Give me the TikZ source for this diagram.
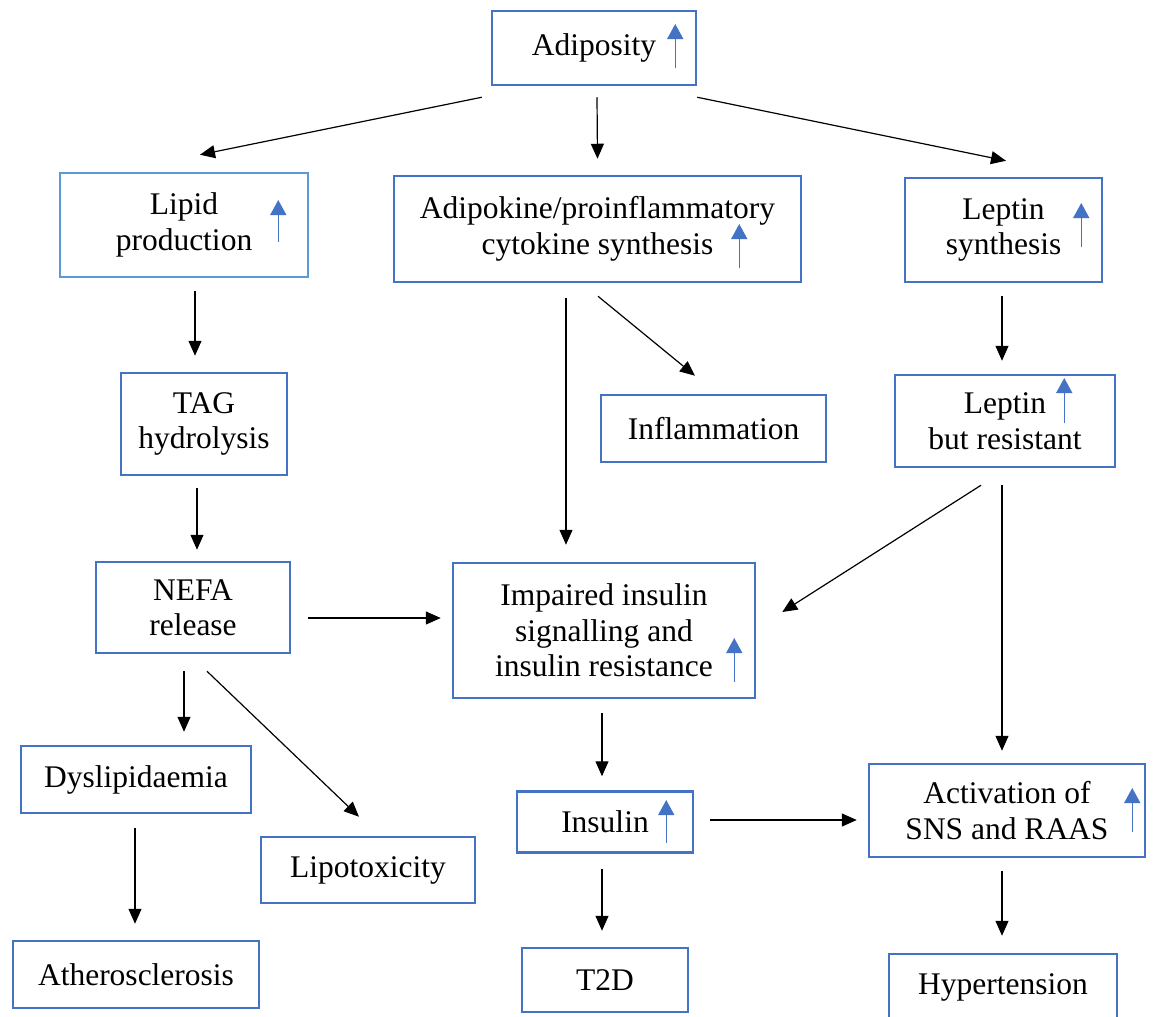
\documentclass[tikz,border=0pt]{standalone}
\usepackage{fontspec}
\setmainfont{Liberation Serif}
\usetikzlibrary{positioning, calc, arrows.meta}
\definecolor{boxblue}{HTML}{4472C4}
\definecolor{lightblue}{HTML}{5B9BD5}
\tikzset{
>={Triangle[length=15pt,width=13pt]}, % filled black heads
every node/.style={font=\fontsize{31.5}{35.5}\selectfont, align=center}, % Times-like text
block/.style={draw=boxblue, line width=2.5pt, inner sep=0pt}, % every box
link/.style={->, line width=1.2pt}, % black connectors
uparr/.style={-{Triangle[length=15pt,width=16pt]}, color=boxblue, line width=1.5pt}, % small blue "increase" marks
}

\begin{document}
\begin{tikzpicture}[x=1pt, y=-1pt]
        \path[use as bounding box, fill=white] (0,0) rectangle (1154,1017);

        % Top row
        \node[block, minimum width=204pt, minimum height=74pt] (adip) at (594,48) {Adiposity};
        \node[block, draw=lightblue, minimum width=248pt, minimum height=104pt] (lipid) at (184,225) {Lipid\\production};
        \node[block, minimum width=407pt, minimum height=106pt] (adipo) at (597.5,229) {Adipokine/proinflammatory\\cytokine synthesis};
        \node[block, minimum width=197pt, minimum height=104pt] (leptin) at (1003.5,230) {Leptin\\synthesis};

        % Second row
        \node[block, minimum width=166pt, minimum height=102pt] (tag) at (204,424) {TAG\\hydrolysis};
        \node[block, minimum width=225pt, minimum height=67pt] (inflam) at (713.5,428.5) {Inflammation};
        \node[block, minimum width=220pt, minimum height=92pt] (leptres) at (1005,421) {Leptin\\but resistant};

        % Middle row
        \node[block, minimum width=194pt, minimum height=91pt] (nefa) at (193,607.5) {NEFA\\release};
        \node[block, minimum width=302pt, minimum height=135pt] (impaired) at (604,630.5) {Impaired insulin\\signalling and\\insulin resistance};

        % Lower rows
        \node[block, minimum width=230pt, minimum height=67pt] (dyslip) at (136,779.5) {Dyslipidaemia};
        \node[block, minimum width=214pt, minimum height=66pt] (lipotox) at (368,870) {Lipotoxicity};
        \node[block, minimum width=176pt, minimum height=61pt] (insulin) at (605,822) {Insulin};
        \node[block, minimum width=276pt, minimum height=93pt] (activ) at (1007,810.5) {Activation of\\SNS and RAAS};
        \node[block, minimum width=246pt, minimum height=67pt] (ather) at (136,974.5) {Atherosclerosis};
        \node[block, minimum width=166pt, minimum height=64pt] (t2d) at (605,980) {T2D};
        \node[block, minimum width=228pt, minimum height=66pt] (hyper) at (1003,987) {Hypertension};

        % Increase marks
        \draw[uparr] ($(adip.east)+(-22,20)$) -- +(0,-44);
        \draw[uparr] ($(lipid.east)+(-31,17)$) -- +(0,-42);
        \draw[uparr] ($(adipo.east)+(-63,39)$) -- +(0,-44);
        \draw[uparr] ($(leptin.east)+(-22,17)$) -- +(0,-44);
        \draw[uparr] ($(leptres.east)+(-52,2)$) -- +(0,-45);
        \draw[uparr] ($(impaired.east)+(-22,51.5)$) -- +(0,-44);
        \draw[uparr] ($(insulin.east)+(-28,21)$) -- +(0,-43);
        \draw[uparr] ($(activ.east)+(-14,21.5)$) -- +(0,-44);

        % Connectors
        \draw[link] ($(adip.south west)+(-9,11)$) -- ($(lipid.north)+(16,-17)$);
        \draw[link] ($(adip.south)+(3,11)$) -- ($(adipo.north)+(0,-16)$);
        \draw[link] ($(adip.south east)+(0,11)$) -- ($(leptin.north)+(2.5,-16)$);
        \draw[link] ($(lipid.south)+(11,13)$) -- ($(tag.north)+(-9,-16)$);
        \draw[link] ($(tag.south)+(-7,12)$) -- ($(nefa.north)+(4,-11)$);
        \draw[link] ($(adipo.south)+(-31.5,15)$) -- ($(impaired.north)+(-38,-17)$);
        \draw[link] ($(adipo.south)+(0.5,13)$) -- ($(inflam.north)+(-18.5,-18)$);
        \draw[link] ($(leptin.south)+(-1.5,13)$) -- ($(leptres.north)+(-3,-13)$);
        \draw[link] ($(leptres.south)+(-24,17)$) -- ($(impaired.east)+(26,-18.5)$);
        \draw[link] ($(leptres.south)+(-3,17)$) -- ($(activ.north)+(-5,-12)$);
        \draw[link] ($(nefa.east)+(17,10.5)$) -- ($(impaired.west)+(-11,-12.5)$);
        \draw[link] ($(nefa.south)+(-9,17)$) -- ($(dyslip.north)+(48,-13)$);
        \draw[link] ($(nefa.south)+(14,17)$) -- ($(lipotox.north)+(-9,-19)$);
        \draw[link] ($(impaired.south)+(-2,14)$) -- ($(insulin.north)+(-3,-14)$);
        \draw[link] ($(dyslip.south)+(-1,14)$) -- ($(ather.north)+(-1,-16)$);
        \draw[link] ($(insulin.east)+(16,-2)$) -- ($(activ.west)+(-11,9.5)$);
        \draw[link] ($(insulin.south)+(-3,15)$) -- ($(t2d.north)+(-3,-16)$);
        \draw[link] ($(activ.south)+(-5,13)$) -- ($(hyper.north)+(-1,-17)$);
    \end{tikzpicture}
\end{document}
